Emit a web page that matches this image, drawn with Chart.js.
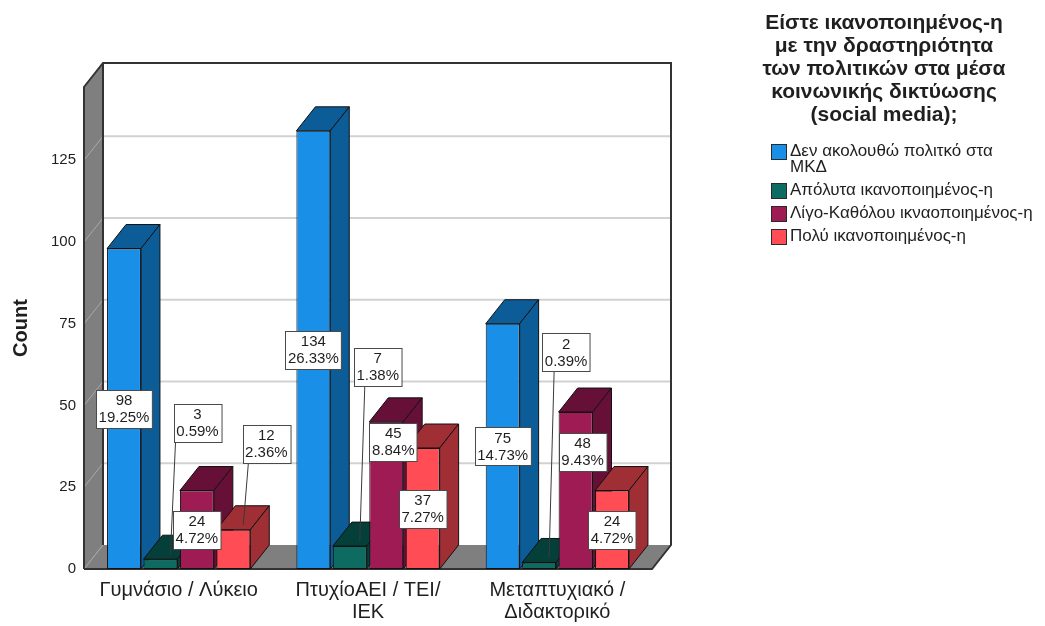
<!DOCTYPE html>
<html>
<head>
<meta charset="utf-8">
<title>Ικανοποίηση από πολιτικούς στα ΜΚΔ ανά εκπαίδευση</title>
<script src="https://cdn.jsdelivr.net/npm/chart.js@4.4.0/dist/chart.umd.min.js"></script>
<style>
  body { margin: 0; background: #fff; }
  #wrap { position: relative; width: 1045px; height: 626px; }
  #legend { position: absolute; left: 736px; top: 10px; width: 300px; font-family: 'Liberation Sans', Arial, sans-serif; color: #1f1f1f; }
  #legend .title { text-align: center; font-weight: bold; font-size: 21px; line-height: 23px; margin-bottom: 18px; margin-left: -4px; }
  #legend .item { position: relative; padding-left: 54px; font-size: 17px; line-height: 16px; margin-bottom: 7px; white-space: pre-line; }
  #legend .swatch { position: absolute; left: 35px; top: 1px; width: 14px; height: 14px; border: 1px solid #2a2a2a; }
</style>
</head>
<body>
<div id="wrap">
  <canvas id="chart" width="1045" height="626"></canvas>
  <div id="legend"></div>
</div>
<script>
const categories = [['Γυμνάσιο / Λύκειο'], ['ΠτυχίοΑΕΙ / ΤΕΙ/', 'ΙΕΚ'], ['Μεταπτυχιακό /', 'Διδακτορικό']]
const seriesNames = ['Δεν ακολουθώ πολιτκό στα\nΜΚΔ', 'Απόλυτα ικανοποιημένος-η', 'Λίγο-Καθόλου ικναοποιημένος-η', 'Πολύ ικανοποιημένος-η']
const notFollowing = [98, 134, 75]
const fullySatisfied = [3, 7, 2]
const littleOrNot = [24, 45, 48]
const verySatisfied = [12, 37, 24]
const yTicks = [0, 25, 50, 75, 100, 125]
const legendTitle = ['Είστε ικανοποιημένος-η', 'με την δραστηριότητα', 'των πολιτικών στα μέσα', 'κοινωνικής δικτύωσης', '(social media);']

Chart.defaults.font.family = "'Liberation Sans', Arial, sans-serif"
Chart.defaults.color = '#1f1f1f'
Chart.defaults.animation = false

// depth of the 3d box, in pixels
const DX = 19
const DY = 24

const total = [...notFollowing, ...fullySatisfied, ...littleOrNot, ...verySatisfied].reduce((s, v) => s + v, 0)

const faces = [
  {front: '#1a8fe8', dark: '#0c5c98'},
  {front: '#0d6b62', dark: '#053f3a'},
  {front: '#9e1b54', dark: '#660f37'},
  {front: '#ff4c55', dark: '#a02e35'},
]

// value boxes moved off the bar middle (offset from the top front edge)
const labelMoves = {
  '1-0': {dx: 37, dy: -136, leader: true},
  '3-0': {dx: 33, dy: -86, leader: true},
  '1-1': {dx: 28, dy: -179, leader: true},
  '1-2': {dx: 27, dy: -210, leader: true},
  '2-1': {dx: 7, dy: 20},
  '2-2': {dx: 7, dy: 40},
}

function poly(ctx, pts, fill, stroke, lw) {
  ctx.beginPath()
  pts.forEach((p, i) => i ? ctx.lineTo(p[0], p[1]) : ctx.moveTo(p[0], p[1]))
  ctx.closePath()
  if (fill) { ctx.fillStyle = fill; ctx.fill() }
  if (stroke) { ctx.strokeStyle = stroke; ctx.lineWidth = lw || 1; ctx.stroke() }
}

function line(ctx, x1, y1, x2, y2, color, lw) {
  ctx.beginPath()
  ctx.moveTo(x1, y1)
  ctx.lineTo(x2, y2)
  ctx.strokeStyle = color
  ctx.lineWidth = lw
  ctx.stroke()
}

const box3d = {
  id: 'box3d',
  beforeDatasetsDraw(chart) {
    const {ctx, chartArea: a} = chart
    const y = chart.scales.y
    ctx.save()
    // side wall and floor
    poly(ctx, [[a.left, a.top], [a.left + DX, a.top - DY], [a.left + DX, a.bottom - DY], [a.left, a.bottom]], '#7f7f7f')
    poly(ctx, [[a.left, a.bottom], [a.left + DX, a.bottom - DY], [a.right + DX, a.bottom - DY], [a.right, a.bottom]], '#7f7f7f')
    yTicks.forEach(v => {
      const py = y.getPixelForValue(v)
      if (v > 0) line(ctx, a.left + DX, py - DY, a.right + DX, py - DY, '#d2d2d2', 2)
      line(ctx, a.left, py, a.left + DX, py - DY, '#a9a9a9', 1)
    })
    // box edges
    ctx.lineJoin = 'miter'
    ctx.beginPath()
    ctx.moveTo(a.left, a.bottom)
    ctx.lineTo(a.left, a.top)
    ctx.lineTo(a.left + DX, a.top - DY)
    ctx.lineTo(a.right + DX, a.top - DY)
    ctx.lineTo(a.right + DX, a.bottom - DY)
    ctx.lineTo(a.right, a.bottom)
    ctx.lineTo(a.left, a.bottom)
    ctx.moveTo(a.left + DX, a.top - DY)
    ctx.lineTo(a.left + DX, a.bottom - DY)
    ctx.strokeStyle = '#333'
    ctx.lineWidth = 2
    ctx.stroke()

    // tops and right sides of the bars, painted left to right
    const bars = []
    chart.data.datasets.forEach((ds, i) => {
      chart.getDatasetMeta(i).data.forEach(el => bars.push({el, face: faces[i]}))
    })
    bars.sort((p, q) => p.el.x - q.el.x)
    bars.forEach(({el, face}) => {
      const {x, y: top, base, width} = el.getProps(['x', 'y', 'base', 'width'], true)
      const l = x - width / 2, r = x + width / 2
      poly(ctx, [[l, top], [l + DX, top - DY], [r + DX, top - DY], [r, top]], face.dark, '#111', 1)
      poly(ctx, [[r, top], [r + DX, top - DY], [r + DX, base - DY], [r, base]], face.dark, '#111', 1)
    })
    ctx.restore()
  },
  afterDatasetsDraw(chart) {
    const {ctx} = chart
    ctx.save()
    ctx.font = "15px 'Liberation Sans', Arial, sans-serif"
    ctx.textAlign = 'center'
    ctx.textBaseline = 'middle'
    chart.data.datasets.forEach((ds, i) => {
      chart.getDatasetMeta(i).data.forEach((el, j) => {
        const v = ds.data[j]
        const lines = [String(v), (v / total * 100).toFixed(2) + '%']
        const {x, y: top, base} = el.getProps(['x', 'y', 'base'], true)
        const move = labelMoves[i + '-' + j]
        let cx = x, cy = (top + base) / 2
        if (move) { cx = x + move.dx; cy = top + move.dy }
        const w = Math.max(...lines.map(t => ctx.measureText(t).width)) + 5
        const h = 38
        const bx = Math.round(cx - w / 2) + 0.5, by = Math.round(cy - h / 2) + 0.5
        if (move && move.leader) {
          const ax = x + 10, ay = top - 5
          line(ctx, Math.max(bx + 1, ax + 5), by + h, ax, ay, '#3a3a3a', 1)
        }
        ctx.fillStyle = '#fff'
        ctx.fillRect(bx, by, w, h)
        ctx.strokeStyle = '#4a4a4a'
        ctx.lineWidth = 1
        ctx.strokeRect(bx, by, w, h)
        ctx.fillStyle = '#1f1f1f'
        ctx.fillText(lines[0], cx, cy - 8)
        ctx.fillText(lines[1], cx, cy + 9)
      })
    })
    ctx.restore()
  }
}

new Chart(document.getElementById('chart'), {
  type: 'bar',
  data: {
    labels: categories,
    datasets: [notFollowing, fullySatisfied, littleOrNot, verySatisfied].map((d, i) => ({
      label: seriesNames[i],
      data: d,
      backgroundColor: faces[i].front,
      borderColor: '#111',
      borderWidth: 1,
      borderSkipped: false,
      categoryPercentage: 0.77,
      barPercentage: 0.93,
    })),
  },
  options: {
    responsive: false,
    events: [],
    layout: {padding: {top: 87, right: 393, bottom: 0, left: 0}},
    plugins: {legend: {display: false}, tooltip: {enabled: false}},
    scales: {
      x: {
        grid: {display: false, drawTicks: false},
        border: {display: false},
        ticks: {font: {size: 20, lineHeight: 1.1}, padding: 10, maxRotation: 0, autoSkip: false},
        afterFit(scale) { scale.height = 57 },
      },
      y: {
        min: 0,
        max: 147.4,
        grid: {display: false, drawTicks: false},
        border: {display: false},
        ticks: {font: {size: 15}, padding: 8},
        afterBuildTicks(scale) { scale.ticks = yTicks.map(v => ({value: v})) },
        afterFit(scale) { scale.width = 84 },
        title: {display: true, text: 'Count', font: {size: 20, weight: 'bold'}, padding: {top: 9, bottom: 0}},
      },
    },
  },
  plugins: [box3d],
})

// legend with a wrapped title, built from the series
const legend = document.getElementById('legend')
legend.innerHTML = '<div class="title">' + legendTitle.join('<br>') + '</div>' +
  seriesNames.map((n, i) => '<div class="item"><span class="swatch" style="background:' + faces[i].front + '"></span>' + n + '</div>').join('')
</script>
</body>
</html>
